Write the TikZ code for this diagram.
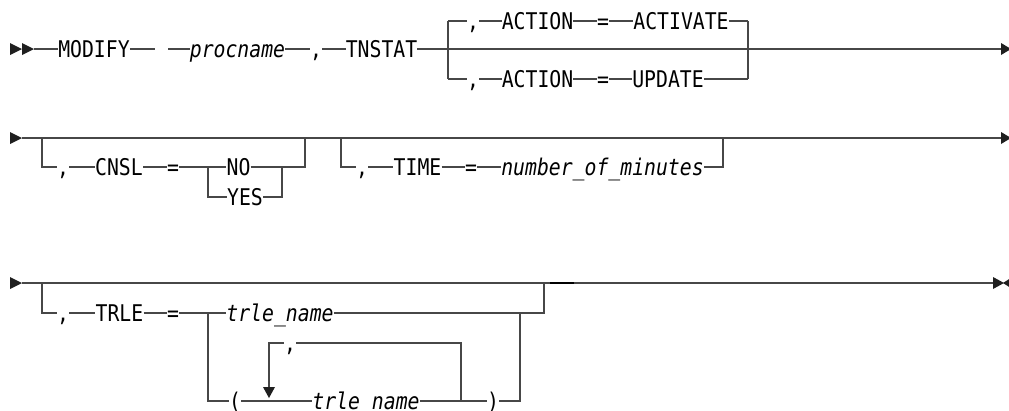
\documentclass[tikz,border=0pt]{standalone}
\usepackage{fontspec}
\newfontfamily\rrfont[FakeStretch=0.86]{DejaVu Sans Mono}
\begin{document}
\begin{tikzpicture}[x=1pt,y=-1pt,
  txt/.style={inner sep=0pt, anchor=base, yshift=-8pt, text=black,
    font=\rrfont\fontsize{23}{25}\selectfont},
  itx/.style={txt, font=\rrfont\itshape\fontsize{23}{25}\selectfont},
  ln/.style={draw=black!72, line width=1.3pt},
  thick seg/.style={draw=black, line width=2.6pt},
  tip/.style={fill=black!88, draw=none}]
\useasboundingbox (0,0) rectangle (1009,410);

% ---------------- Row 1 ----------------
\coordinate (r1) at (0,49);
\coordinate (r1a) at (0,21);
\coordinate (r1b) at (0,79);
\fill[tip] (10,43) -- (22,49) -- (10,55) -- cycle;
\fill[tip] (22,43) -- (34,49) -- (22,55) -- cycle;
\coordinate (s1) at (34,49);
\node[txt] (modify) at (94,49) {MODIFY};
\node[itx] (procname) at (237.5,49) {procname};
\node[txt] (c1) at (316,49) {,};
\node[txt] (tnstat) at (381.5,49) {TNSTAT};
\coordinate (g1) at (155,49);
\coordinate (g2) at (168,49);
\coordinate (e1) at (1002,49);
\draw[ln] (s1) -- (modify.west |- r1);
\draw[ln] (modify.east |- r1) -- (g1);
\draw[ln] (g2) -- (procname.west |- r1);
\draw[ln] (procname.east |- r1) -- (c1.west |- r1);
\draw[ln] (c1.east |- r1) -- (tnstat.west |- r1);
\draw[ln] (tnstat.east |- r1) -- (e1);
\fill[tip] (1001,43) -- (1011,49) -- (1001,55) -- cycle;

\coordinate (ja) at (448,21);
\coordinate (jb) at (448,79);
\coordinate (ka) at (748,21);
\coordinate (kb) at (748,79);
\node[txt] (ca) at (473,21) {,};
\node[txt] (act1) at (537.5,21) {ACTION};
\node[txt] (eq1) at (603,21) {=};
\node[txt] (activate) at (681,21) {ACTIVATE};
\node[txt] (cb) at (473,79) {,};
\node[txt] (act2) at (537.5,79) {ACTION};
\node[txt] (eq2) at (603,79) {=};
\node[txt] (update) at (668,79) {UPDATE};
\draw[ln] (ja) -- (jb);
\draw[ln] (ka) -- (kb);
\draw[ln] (ja) -- (ca.west |- ja);
\draw[ln] (ca.east |- ja) -- (act1.west |- ja);
\draw[ln] (act1.east |- ja) -- (eq1.west |- ja);
\draw[ln] (eq1.east |- ja) -- (activate.west |- ja);
\draw[ln] (activate.east |- ja) -- (ka);
\draw[ln] (jb) -- (cb.west |- jb);
\draw[ln] (cb.east |- jb) -- (act2.west |- jb);
\draw[ln] (act2.east |- jb) -- (eq2.west |- jb);
\draw[ln] (eq2.east |- jb) -- (update.west |- jb);
\draw[ln] (update.east |- jb) -- (kb);

% ---------------- Row 2 ----------------
\coordinate (r2) at (0,138);
\fill[tip] (10,132) -- (22,138) -- (10,144) -- cycle;
\coordinate (s2) at (22,138);
\coordinate (e2) at (1002,138);
\draw[ln] (s2) -- (e2);
\fill[tip] (1001,132) -- (1011,138) -- (1001,144) -- cycle;

\coordinate (m1) at (42,138);
\coordinate (m1b) at (42,167);
\coordinate (m2) at (305,138);
\coordinate (m2b) at (305,167);
\coordinate (n1) at (208,167);
\coordinate (n1b) at (208,197);
\coordinate (n2) at (282,167);
\coordinate (n2b) at (282,197);
\node[txt] (c2) at (63,167) {,};
\node[txt] (cnsl) at (119,167) {CNSL};
\node[txt] (eq3) at (173,167) {=};
\node[txt] (no) at (238.5,167) {NO};
\node[txt] (yes) at (245,197) {YES};
\draw[ln] (m1) -- (m1b) -- (c2.west |- m1b);
\draw[ln] (c2.east |- m1b) -- (cnsl.west |- m1b);
\draw[ln] (cnsl.east |- m1b) -- (eq3.west |- m1b);
\draw[ln] (eq3.east |- m1b) -- (no.west |- m1b);
\draw[ln] (no.east |- m1b) -- (m2b) -- (m2);
\draw[ln] (n1) -- (n1b) -- (yes.west |- n1b);
\draw[ln] (yes.east |- n1b) -- (n2b) -- (n2);

\coordinate (t1) at (341,138);
\coordinate (t1b) at (341,167);
\coordinate (t2) at (723,138);
\coordinate (t2b) at (723,167);
\node[txt] (c3) at (362,167) {,};
\node[txt] (time) at (417.5,167) {TIME};
\node[txt] (eq4) at (471,167) {=};
\node[itx] (nom) at (602.5,167) {number\_of\_minutes};
\draw[ln] (t1) -- (t1b) -- (c3.west |- t1b);
\draw[ln] (c3.east |- t1b) -- (time.west |- t1b);
\draw[ln] (time.east |- t1b) -- (eq4.west |- t1b);
\draw[ln] (eq4.east |- t1b) -- (nom.west |- t1b);
\draw[ln] (nom.east |- t1b) -- (t2b) -- (t2);

% ---------------- Row 3 ----------------
\fill[tip] (10,277) -- (22,283) -- (10,289) -- cycle;
\coordinate (s3) at (22,283);
\coordinate (e3) at (994,283);
\draw[ln] (s3) -- (e3);
\coordinate (h1) at (550,283);
\coordinate (h2) at (574,283);
\draw[thick seg] (h1) -- (h2);
\fill[tip] (993,277) -- (1004,283) -- (993,289) -- cycle;
\fill[tip] (1010,278.5) -- (1003,283) -- (1010,287.5) -- cycle;

\coordinate (p1) at (42,283);
\coordinate (p1b) at (42,313);
\coordinate (p2) at (544,283);
\coordinate (p2b) at (544,313);
\coordinate (q1) at (208,313);
\coordinate (q1b) at (208,401);
\coordinate (q2) at (520,313);
\coordinate (q2b) at (520,401);
\node[txt] (c4) at (63,313) {,};
\node[txt] (trle) at (119.5,313) {TRLE};
\node[txt] (eq5) at (173,313) {=};
\node[itx] (tn1) at (280,313) {trle\_name};
\node[txt] (lp) at (235,401) {(};
\node[itx] (tn2) at (366,401) {trle\_name};
\node[txt] (rp) at (493,401) {)};
\draw[ln] (p1) -- (p1b) -- (c4.west |- p1b);
\draw[ln] (c4.east |- p1b) -- (trle.west |- p1b);
\draw[ln] (trle.east |- p1b) -- (eq5.west |- p1b);
\draw[ln] (eq5.east |- p1b) -- (tn1.west |- p1b);
\draw[ln] (tn1.east |- p1b) -- (p2b) -- (p2);
\draw[ln] (q1) -- (q1b) -- (lp.west |- q1b);
\draw[ln] (lp.east |- q1b) -- (tn2.west |- q1b);
\draw[ln] (tn2.east |- q1b) -- (rp.west |- q1b);
\draw[ln] (rp.east |- q1b) -- (q2b) -- (q2);

% repeat loop
\coordinate (l1) at (269,343);
\coordinate (l1b) at (269,389);
\coordinate (l2) at (461,343);
\coordinate (l2b) at (461,401);
\node[txt] (lc) at (290,343) {,};
\draw[ln] (l2b) -- (l2) -- (lc.east |- l2);
\draw[ln] (lc.west |- l1) -- (l1) -- (l1b);
\fill[tip] (263,387) -- (269,398) -- (275,387) -- cycle;
\end{tikzpicture}
\end{document}
